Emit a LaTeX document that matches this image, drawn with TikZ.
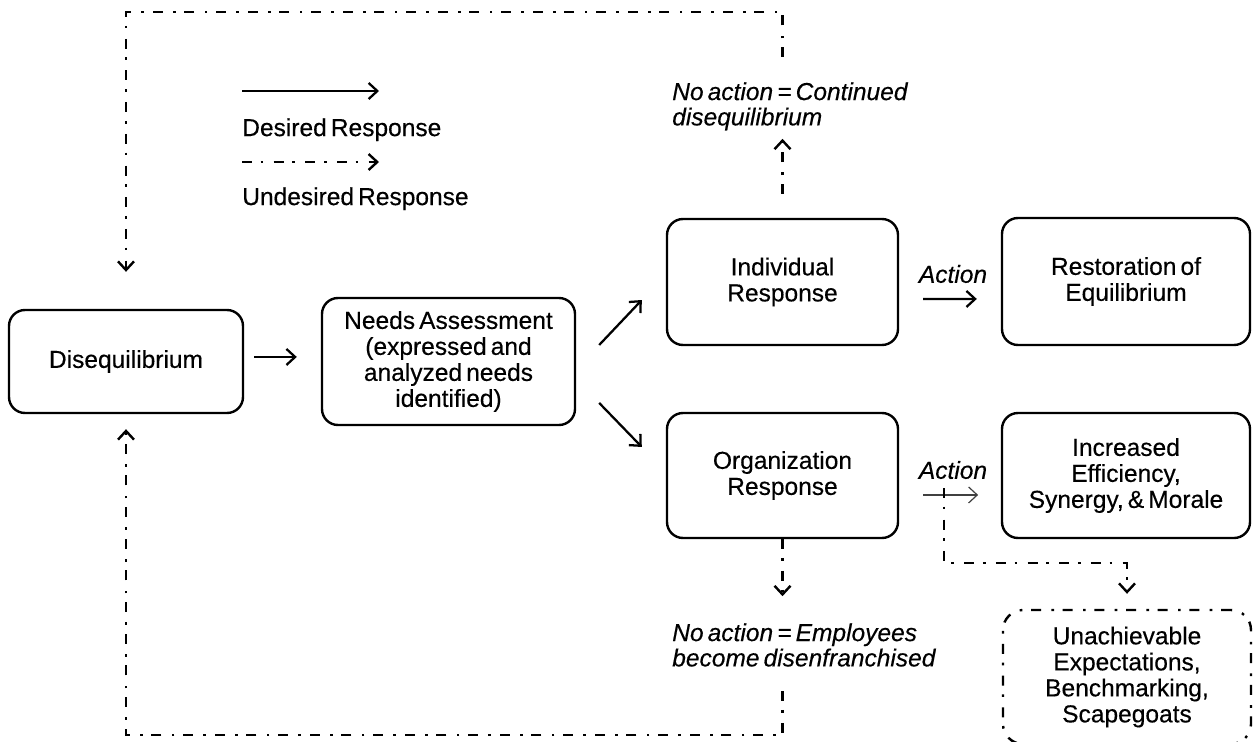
\documentclass[tikz,border=0pt]{standalone}
\usepackage{fontspec}
\setmainfont{Liberation Sans}[WordSpace=0.6,FakeBold=0.35]
\usetikzlibrary{arrows.meta}
\begin{document}
\begin{tikzpicture}[x=0.75pt,y=-0.75pt,
  font=\fontsize{18.4}{19.5}\selectfont,
  box/.style={draw, line width=1.8pt, rounded corners=12pt, align=center, inner sep=0pt},
  des/.style={draw, line width=1.7pt, -{Straight Barb[length=6.5pt,width=12pt]}},
  unddash/.style={line width=1.8pt, dash pattern=on 7.5pt off 6.5pt on 2pt off 7.75pt},
  und/.style={draw, unddash, -{Straight Barb[length=6.5pt,width=12pt]}},
  lbl/.style={inner sep=0pt, anchor=north west, align=left, font=\fontsize{18.4}{19}\selectfont\itshape},
  leg/.style={inner sep=0pt, anchor=north west},
  act/.style={inner sep=0pt, font=\fontsize{18.4}{19}\selectfont\itshape}]
\useasboundingbox (0,0) rectangle (1253,742);
\fill[white] (0,0) rectangle (1253,742);

% boxes
\node[box, minimum width=175.5pt, minimum height=77.25pt] (dis) at (126,361.5) {Disequilibrium};
\node[box, minimum width=189.75pt, minimum height=95.25pt] (needs) at (448.5,361.5) {Needs Assessment\\(expressed and\\analyzed needs\\identified)};
\node[box, minimum width=173.25pt, minimum height=94.5pt] (ind) at (782.5,282) {Individual\\Response};
\node[box, minimum width=173.25pt, minimum height=93.75pt] (org) at (782.5,475.5) {Organization\\Response};
\node[box, minimum width=186pt, minimum height=95.25pt] (res) at (1126,281.5) {Restoration of\\Equilibrium};
\node[box, minimum width=186pt, minimum height=93.75pt] (inc) at (1126,475.5) {Increased\\Efficiency,\\Synergy, \& Morale};
\node[box, unddash, rounded corners=15pt, minimum width=186pt, minimum height=100.5pt] (una) at (1127,677) {Unachievable\\Expectations,\\Benchmarking,\\Scapegoats};

% labels
\node[lbl] (nac) at (672,82) {No action = Continued\\disequilibrium};
\node[lbl] (nae) at (672,623) {No action = Employees\\become disenfranchised};
\node[act] (act1) at (953,274) {Action};
\node[act] (act2) at (953,470) {Action};

% legend
\coordinate (l1a) at (242,91);
\coordinate (l1b) at (379,91);
\draw[des] (l1a) -- (l1b);
\node[leg] (l1t) at (242,118) {Desired Response};
\coordinate (l2a) at (242,162);
\coordinate (l2b) at (379,162);
\draw[und] (l2a) -- (l2b);
\node[leg] (l2t) at (242,187) {Undesired Response};

% desired connectors
\draw[des] ([xshift=7.5pt,yshift=3.4pt]dis.east) -- ([xshift=-18pt,yshift=3.4pt]needs.west);
\draw[des] ([xshift=17.25pt,yshift=12.4pt]needs.east) -- ([xshift=-18pt,yshift=-13.5pt]ind.west);
\draw[des] ([xshift=17.25pt,yshift=-31.1pt]needs.east) -- ([xshift=-18pt,yshift=21.4pt]org.west);
\draw[des] ([xshift=18pt,yshift=-12.75pt]ind.east) -- ([xshift=-18pt,yshift=-13.1pt]res.west);
\draw[des, line width=0.9pt, draw=black!75] ([xshift=18pt,yshift=-14.6pt]org.east) -- ([xshift=-17pt,yshift=-14.6pt]inc.west);

% undesired connectors
\draw[und] ([yshift=18pt]ind.north) -- ([yshift=59.25pt]ind.north);
\coordinate (nt) at (nac.north -| ind.north);
\coordinate (tl) at (126,12);
\draw[und] ([yshift=18.75pt]nt) |- (tl) -- ([yshift=27.75pt]dis.north);

\draw[und] (org.south) -- ([yshift=-42.75pt]org.south);
\coordinate (bl) at (126,735);
\draw[und] ([yshift=-114pt]org.south) |- (bl) -- ([yshift=-11.25pt]dis.south);

\coordinate (br) at (1127,563);
\draw[und] ([xshift=33.75pt,yshift=-9.4pt]org.east) |- (br) -- ([yshift=11.25pt]una.north);
\end{tikzpicture}
\end{document}
